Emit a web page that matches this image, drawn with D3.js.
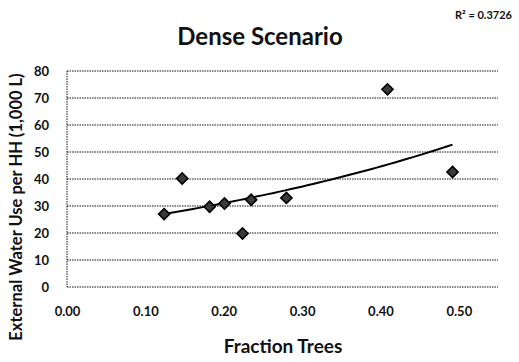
<!DOCTYPE html>
<html>
<head>
<meta charset="utf-8">
<script src="https://cdn.jsdelivr.net/npm/d3@7"></script>
<style>
  html, body { margin: 0; padding: 0; background: #fff; }
  svg { display: block; font-family: Lato, "Open Sans", sans-serif; }
</style>
</head>
<body>
<svg id="chart" width="519" height="362"></svg>
<script>
// Fraction of trees vs. external water use per household (dense scenario)
const fractionTrees = [0.124, 0.147, 0.182, 0.201, 0.224, 0.235, 0.280, 0.409, 0.492];
const waterUse      = [27.0, 40.2, 29.7, 30.9, 19.8, 32.3, 33.0, 73.2, 42.6];
const xTicks = [0.0, 0.1, 0.2, 0.3, 0.4, 0.5];
const yTicks = [0, 10, 20, 30, 40, 50, 60, 70, 80];
const titleText = "Dense Scenario";
const xTitle = "Fraction Trees";
const yTitle = "External Water Use per HH (1,000 L)";
const r2Text = "R² = 0.3726";

const svg = d3.select("#chart");
const plot = { left: 67, right: 498, top: 71, bottom: 287 };

const x = d3.scaleLinear().domain([0, 0.55]).range([plot.left, plot.right]);
const y = d3.scaleLinear().domain([0, 80]).range([plot.bottom, plot.top]);

// Horizontal dotted gridlines
svg.append("g")
  .selectAll("line")
  .data(yTicks)
  .join("line")
  .attr("x1", plot.left).attr("x2", plot.right)
  .attr("y1", d => y(d)).attr("y2", d => y(d))
  .attr("stroke", "#111")
  .attr("stroke-width", 1.1)
  .attr("stroke-dasharray", "1.5,1");

// Left axis line (dotted)
svg.append("line")
  .attr("x1", plot.left).attr("x2", plot.left)
  .attr("y1", plot.top).attr("y2", plot.bottom)
  .attr("stroke", "#111")
  .attr("stroke-dasharray", "1.5,1");

// Y axis labels
const yAxis = d3.axisLeft(y).tickValues(yTicks).tickSize(0).tickPadding(18).tickFormat(d3.format("d"));
const gy = svg.append("g").attr("transform", `translate(${plot.left},0)`).call(yAxis);
gy.select(".domain").remove();
gy.selectAll("text")
  .attr("font-size", 13).attr("font-weight", 700).attr("fill", "#111")
  .attr("font-family", "Lato, sans-serif");

// X axis labels
const xAxis = d3.axisBottom(x).tickValues(xTicks).tickSize(0).tickPadding(20).tickFormat(d3.format(".2f"));
const gx = svg.append("g").attr("transform", `translate(0,${plot.bottom})`).call(xAxis);
gx.select(".domain").remove();
gx.selectAll("text")
  .attr("font-size", 13).attr("font-weight", 700).attr("fill", "#111")
  .attr("font-family", "Lato, sans-serif");

// Exponential trendline y = a·e^(b·x), least squares on ln(y)
const n = fractionTrees.length;
const lny = waterUse.map(Math.log);
const mx = d3.mean(fractionTrees), my = d3.mean(lny);
let sxy = 0, sxx = 0;
for (let i = 0; i < n; i++) {
  sxy += (fractionTrees[i] - mx) * (lny[i] - my);
  sxx += (fractionTrees[i] - mx) ** 2;
}
const b = sxy / sxx;
const a = Math.exp(my - b * mx);
const [x0, x1] = d3.extent(fractionTrees);
const trend = d3.range(0, 51).map(i => x0 + (x1 - x0) * i / 50);
svg.append("path")
  .datum(trend)
  .attr("fill", "none")
  .attr("stroke", "#000")
  .attr("stroke-width", 2)
  .attr("d", d3.line().x(d => x(d)).y(d => y(a * Math.exp(b * d))));

// Diamond markers
const diamond = d3.symbol().type(d3.symbolSquare).size(62);
svg.append("g")
  .selectAll("path")
  .data(fractionTrees.map((f, i) => [f, waterUse[i]]))
  .join("path")
  .attr("d", diamond)
  .attr("transform", d => `translate(${x(d[0])},${y(d[1])}) rotate(45)`)
  .attr("fill", "#3a3a3a")
  .attr("stroke", "#000")
  .attr("stroke-width", 1.6);

// Titles
svg.append("text")
  .attr("x", 260).attr("y", 45)
  .attr("text-anchor", "middle")
  .attr("font-size", 24).attr("font-weight", 700).attr("fill", "#111")
  .text(titleText);

svg.append("text")
  .attr("x", 512).attr("y", 19)
  .attr("text-anchor", "end")
  .attr("font-size", 11).attr("font-weight", 700).attr("fill", "#111")
  .text(r2Text);

svg.append("text")
  .attr("x", 283).attr("y", 353)
  .attr("text-anchor", "middle")
  .attr("font-size", 19).attr("font-weight", 700).attr("fill", "#111")
  .text(xTitle);

svg.append("text")
  .attr("transform", "translate(22,207) rotate(-90)")
  .attr("text-anchor", "middle")
  .attr("font-size", 16.5).attr("font-weight", 700).attr("fill", "#111")
  .text(yTitle);
</script>
</body>
</html>
